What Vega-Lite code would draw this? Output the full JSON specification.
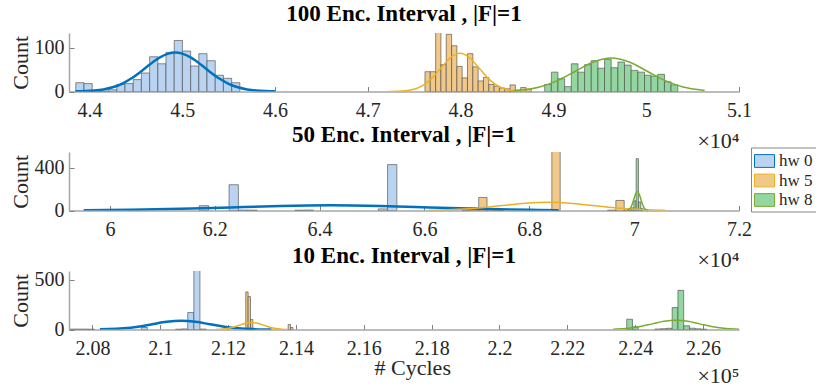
{
  "$schema": "https://vega.github.io/schema/vega-lite/v6.json",
  "padding": {"left": 9, "top": 2, "right": 0, "bottom": 0},
  "background": "white",
  "title": {"text": "# Cycles", "orient": "bottom", "anchor": "middle", "offset": -29, "fontWeight": "normal", "fontSize": 22, "color": "#262626", "font": "Liberation Serif"},
  "datasets": {
    "bars": [
      {"p":1,"s":"hw 0","a":4.3853,"b":4.3941,"n":20},{"p":1,"s":"hw 0","a":4.3941,"b":4.4030,"n":18},{"p":1,"s":"hw 0","a":4.4030,"b":4.4118,"n":1},{"p":1,"s":"hw 0","a":4.4118,"b":4.4207,"n":1},{"p":1,"s":"hw 0","a":4.4207,"b":4.4295,"n":4},{"p":1,"s":"hw 0","a":4.4295,"b":4.4383,"n":16},{"p":1,"s":"hw 0","a":4.4383,"b":4.4472,"n":18},{"p":1,"s":"hw 0","a":4.4472,"b":4.4560,"n":27},{"p":1,"s":"hw 0","a":4.4560,"b":4.4649,"n":42},{"p":1,"s":"hw 0","a":4.4649,"b":4.4737,"n":79},{"p":1,"s":"hw 0","a":4.4737,"b":4.4825,"n":63},{"p":1,"s":"hw 0","a":4.4825,"b":4.4914,"n":89},{"p":1,"s":"hw 0","a":4.4914,"b":4.5002,"n":116},{"p":1,"s":"hw 0","a":4.5002,"b":4.5091,"n":92},{"p":1,"s":"hw 0","a":4.5091,"b":4.5179,"n":58},{"p":1,"s":"hw 0","a":4.5179,"b":4.5267,"n":86},{"p":1,"s":"hw 0","a":4.5267,"b":4.5356,"n":70},{"p":1,"s":"hw 0","a":4.5356,"b":4.5444,"n":37},{"p":1,"s":"hw 0","a":4.5444,"b":4.5533,"n":30},{"p":1,"s":"hw 0","a":4.5533,"b":4.5621,"n":20},
      {"p":1,"s":"hw 5","a":4.7616,"b":4.7673,"n":45},{"p":1,"s":"hw 5","a":4.7673,"b":4.7731,"n":45},{"p":1,"s":"hw 5","a":4.7731,"b":4.7788,"n":140},{"p":1,"s":"hw 5","a":4.7788,"b":4.7845,"n":61},{"p":1,"s":"hw 5","a":4.7845,"b":4.7903,"n":130},{"p":1,"s":"hw 5","a":4.7903,"b":4.7960,"n":104},{"p":1,"s":"hw 5","a":4.7960,"b":4.8017,"n":57},{"p":1,"s":"hw 5","a":4.8017,"b":4.8074,"n":31},{"p":1,"s":"hw 5","a":4.8074,"b":4.8132,"n":86},{"p":1,"s":"hw 5","a":4.8132,"b":4.8189,"n":56},{"p":1,"s":"hw 5","a":4.8189,"b":4.8246,"n":24},{"p":1,"s":"hw 5","a":4.8246,"b":4.8304,"n":32},{"p":1,"s":"hw 5","a":4.8304,"b":4.8361,"n":16},{"p":1,"s":"hw 5","a":4.8361,"b":4.8418,"n":12},{"p":1,"s":"hw 5","a":4.8418,"b":4.8476,"n":8},{"p":1,"s":"hw 5","a":4.8476,"b":4.8533,"n":6},{"p":1,"s":"hw 5","a":4.8533,"b":4.8590,"n":15},{"p":1,"s":"hw 5","a":4.8590,"b":4.8647,"n":3},{"p":1,"s":"hw 5","a":4.8647,"b":4.8705,"n":9},{"p":1,"s":"hw 5","a":4.8705,"b":4.8762,"n":5},
      {"p":1,"s":"hw 8","a":4.8906,"b":4.8978,"n":16},{"p":1,"s":"hw 8","a":4.8978,"b":4.9049,"n":44},{"p":1,"s":"hw 8","a":4.9049,"b":4.9121,"n":29},{"p":1,"s":"hw 8","a":4.9121,"b":4.9193,"n":11},{"p":1,"s":"hw 8","a":4.9193,"b":4.9265,"n":63},{"p":1,"s":"hw 8","a":4.9265,"b":4.9336,"n":44},{"p":1,"s":"hw 8","a":4.9336,"b":4.9408,"n":61},{"p":1,"s":"hw 8","a":4.9408,"b":4.9480,"n":70},{"p":1,"s":"hw 8","a":4.9480,"b":4.9551,"n":53},{"p":1,"s":"hw 8","a":4.9551,"b":4.9623,"n":73},{"p":1,"s":"hw 8","a":4.9623,"b":4.9695,"n":54},{"p":1,"s":"hw 8","a":4.9695,"b":4.9766,"n":67},{"p":1,"s":"hw 8","a":4.9766,"b":4.9838,"n":60},{"p":1,"s":"hw 8","a":4.9838,"b":4.9910,"n":48},{"p":1,"s":"hw 8","a":4.9910,"b":4.9982,"n":44},{"p":1,"s":"hw 8","a":4.9982,"b":5.0053,"n":37},{"p":1,"s":"hw 8","a":5.0053,"b":5.0125,"n":35},{"p":1,"s":"hw 8","a":5.0125,"b":5.0197,"n":39},{"p":1,"s":"hw 8","a":5.0197,"b":5.0268,"n":22},{"p":1,"s":"hw 8","a":5.0268,"b":5.0340,"n":15},
      {"p":2,"s":"hw 0","a":6.1705,"b":6.1883,"n":45},{"p":2,"s":"hw 0","a":6.2273,"b":6.2451,"n":241},{"p":2,"s":"hw 0","a":6.2451,"b":6.2629,"n":4},{"p":2,"s":"hw 0","a":6.2629,"b":6.2807,"n":3},{"p":2,"s":"hw 0","a":6.3530,"b":6.3708,"n":3},{"p":2,"s":"hw 0","a":6.3708,"b":6.3886,"n":4},{"p":2,"s":"hw 0","a":6.5118,"b":6.5296,"n":15},{"p":2,"s":"hw 0","a":6.5296,"b":6.5474,"n":429},
      {"p":2,"s":"hw 5","a":6.6717,"b":6.6876,"n":4},{"p":2,"s":"hw 5","a":6.6876,"b":6.7035,"n":25},{"p":2,"s":"hw 5","a":6.7035,"b":6.7194,"n":122},{"p":2,"s":"hw 5","a":6.7194,"b":6.7353,"n":15},{"p":2,"s":"hw 5","a":6.7353,"b":6.7512,"n":4},{"p":2,"s":"hw 5","a":6.8430,"b":6.8589,"n":600},{"p":2,"s":"hw 5","a":6.9492,"b":6.9651,"n":3},{"p":2,"s":"hw 5","a":6.9651,"b":6.9810,"n":94},{"p":2,"s":"hw 5","a":6.9810,"b":6.9969,"n":4},
      {"p":2,"s":"hw 8","a":6.9950,"b":6.9994,"n":25},{"p":2,"s":"hw 8","a":6.9994,"b":7.0038,"n":90},{"p":2,"s":"hw 8","a":7.0038,"b":7.0082,"n":485},{"p":2,"s":"hw 8","a":7.0082,"b":7.0126,"n":80},{"p":2,"s":"hw 8","a":7.0126,"b":7.0170,"n":20},
      {"p":3,"s":"hw 0","a":2.0735,"b":2.0753,"n":4},{"p":3,"s":"hw 0","a":2.0753,"b":2.0771,"n":4},{"p":3,"s":"hw 0","a":2.0771,"b":2.0789,"n":4},{"p":3,"s":"hw 0","a":2.0789,"b":2.0807,"n":3},{"p":3,"s":"hw 0","a":2.0944,"b":2.0962,"n":20},{"p":3,"s":"hw 0","a":2.1045,"b":2.1063,"n":3},{"p":3,"s":"hw 0","a":2.1063,"b":2.1081,"n":6},{"p":3,"s":"hw 0","a":2.1081,"b":2.1099,"n":170},{"p":3,"s":"hw 0","a":2.1099,"b":2.1117,"n":620},{"p":3,"s":"hw 0","a":2.1117,"b":2.1135,"n":4},
      {"p":3,"s":"hw 5","a":2.1252,"b":2.1259,"n":377},{"p":3,"s":"hw 5","a":2.1259,"b":2.1266,"n":330},{"p":3,"s":"hw 5","a":2.1266,"b":2.1273,"n":100},{"p":3,"s":"hw 5","a":2.1273,"b":2.1280,"n":10},{"p":3,"s":"hw 5","a":2.1377,"b":2.1384,"n":50},{"p":3,"s":"hw 5","a":2.1384,"b":2.1391,"n":20},
      {"p":3,"s":"hw 8","a":2.2375,"b":2.2392,"n":103},{"p":3,"s":"hw 8","a":2.2392,"b":2.2409,"n":27},{"p":3,"s":"hw 8","a":2.2458,"b":2.2475,"n":5},{"p":3,"s":"hw 8","a":2.2475,"b":2.2492,"n":8},{"p":3,"s":"hw 8","a":2.2492,"b":2.2509,"n":12},{"p":3,"s":"hw 8","a":2.2509,"b":2.2526,"n":220},{"p":3,"s":"hw 8","a":2.2526,"b":2.2543,"n":393},{"p":3,"s":"hw 8","a":2.2543,"b":2.2560,"n":37},{"p":3,"s":"hw 8","a":2.2560,"b":2.2577,"n":13},{"p":3,"s":"hw 8","a":2.2577,"b":2.2594,"n":7},{"p":3,"s":"hw 8","a":2.2594,"b":2.2611,"n":3}
    ],
    "fits": [
      {"p":1,"s":"hw 0","x":4.385,"y":0.3},{"p":1,"s":"hw 0","x":4.395,"y":0.9},{"p":1,"s":"hw 0","x":4.405,"y":2.1},{"p":1,"s":"hw 0","x":4.415,"y":4.7},{"p":1,"s":"hw 0","x":4.425,"y":9.6},{"p":1,"s":"hw 0","x":4.435,"y":17.6},{"p":1,"s":"hw 0","x":4.445,"y":29.5},{"p":1,"s":"hw 0","x":4.455,"y":44.6},{"p":1,"s":"hw 0","x":4.465,"y":61.3},{"p":1,"s":"hw 0","x":4.475,"y":76.3},{"p":1,"s":"hw 0","x":4.485,"y":86.2},{"p":1,"s":"hw 0","x":4.4925,"y":88.6},{"p":1,"s":"hw 0","x":4.50,"y":86.2},{"p":1,"s":"hw 0","x":4.51,"y":76.3},{"p":1,"s":"hw 0","x":4.52,"y":61.3},{"p":1,"s":"hw 0","x":4.53,"y":44.6},{"p":1,"s":"hw 0","x":4.54,"y":29.5},{"p":1,"s":"hw 0","x":4.55,"y":17.6},{"p":1,"s":"hw 0","x":4.56,"y":9.6},{"p":1,"s":"hw 0","x":4.57,"y":4.7},{"p":1,"s":"hw 0","x":4.58,"y":2.1},{"p":1,"s":"hw 0","x":4.59,"y":0.9},{"p":1,"s":"hw 0","x":4.60,"y":0.3},
      {"p":1,"s":"hw 5","x":4.7223,"y":0.09},{"p":1,"s":"hw 5","x":4.7265,"y":0.19},{"p":1,"s":"hw 5","x":4.7369,"y":0.97},{"p":1,"s":"hw 5","x":4.7473,"y":3.8},{"p":1,"s":"hw 5","x":4.7577,"y":11.8},{"p":1,"s":"hw 5","x":4.7681,"y":28.2},{"p":1,"s":"hw 5","x":4.7785,"y":52.8},{"p":1,"s":"hw 5","x":4.7889,"y":76.8},{"p":1,"s":"hw 5","x":4.7993,"y":87},{"p":1,"s":"hw 5","x":4.8097,"y":76.8},{"p":1,"s":"hw 5","x":4.8201,"y":52.8},{"p":1,"s":"hw 5","x":4.8305,"y":28.2},{"p":1,"s":"hw 5","x":4.8409,"y":11.8},{"p":1,"s":"hw 5","x":4.8513,"y":3.8},{"p":1,"s":"hw 5","x":4.8617,"y":0.97},{"p":1,"s":"hw 5","x":4.8721,"y":0.19},
      {"p":1,"s":"hw 8","x":4.8568,"y":1.82},{"p":1,"s":"hw 8","x":4.8657,"y":3.34},{"p":1,"s":"hw 8","x":4.8850,"y":10.3},{"p":1,"s":"hw 8","x":4.9044,"y":24.7},{"p":1,"s":"hw 8","x":4.9237,"y":46.1},{"p":1,"s":"hw 8","x":4.9431,"y":67.1},{"p":1,"s":"hw 8","x":4.9624,"y":76},{"p":1,"s":"hw 8","x":4.9818,"y":67.1},{"p":1,"s":"hw 8","x":5.0011,"y":46.1},{"p":1,"s":"hw 8","x":5.0205,"y":24.7},{"p":1,"s":"hw 8","x":5.0398,"y":10.3},{"p":1,"s":"hw 8","x":5.0592,"y":3.34},{"p":1,"s":"hw 8","x":5.0630,"y":2.62},
      {"p":2,"s":"hw 0","x":5.95,"y":2.3},{"p":2,"s":"hw 0","x":6.04,"y":6.5},{"p":2,"s":"hw 0","x":6.135,"y":15.6},{"p":2,"s":"hw 0","x":6.23,"y":29.1},{"p":2,"s":"hw 0","x":6.325,"y":42.4},{"p":2,"s":"hw 0","x":6.42,"y":48},{"p":2,"s":"hw 0","x":6.515,"y":42.4},{"p":2,"s":"hw 0","x":6.61,"y":29.1},{"p":2,"s":"hw 0","x":6.705,"y":15.6},{"p":2,"s":"hw 0","x":6.80,"y":6.5},{"p":2,"s":"hw 0","x":6.856,"y":3.5},
      {"p":2,"s":"hw 5","x":6.608,"y":2.2},{"p":2,"s":"hw 5","x":6.6225,"y":3.4},{"p":2,"s":"hw 5","x":6.665,"y":10.6},{"p":2,"s":"hw 5","x":6.7075,"y":25.3},{"p":2,"s":"hw 5","x":6.75,"y":47.3},{"p":2,"s":"hw 5","x":6.7925,"y":68.8},{"p":2,"s":"hw 5","x":6.835,"y":78},{"p":2,"s":"hw 5","x":6.8775,"y":68.8},{"p":2,"s":"hw 5","x":6.92,"y":47.3},{"p":2,"s":"hw 5","x":6.9625,"y":25.3},{"p":2,"s":"hw 5","x":7.005,"y":10.6},{"p":2,"s":"hw 5","x":7.0475,"y":3.4},{"p":2,"s":"hw 5","x":7.059,"y":2.4},
      {"p":2,"s":"hw 8","x":6.9866,"y":2.0},{"p":2,"s":"hw 8","x":6.9899,"y":7.8},{"p":2,"s":"hw 8","x":6.9931,"y":24.1},{"p":2,"s":"hw 8","x":6.9964,"y":57.8},{"p":2,"s":"hw 8","x":6.9996,"y":108},{"p":2,"s":"hw 8","x":7.0029,"y":157},{"p":2,"s":"hw 8","x":7.0061,"y":178},{"p":2,"s":"hw 8","x":7.0094,"y":157},{"p":2,"s":"hw 8","x":7.0126,"y":108},{"p":2,"s":"hw 8","x":7.0159,"y":57.8},{"p":2,"s":"hw 8","x":7.0191,"y":24.1},{"p":2,"s":"hw 8","x":7.0224,"y":7.8},{"p":2,"s":"hw 8","x":7.0256,"y":2.0},
      {"p":3,"s":"hw 0","x":2.0822,"y":1.7},{"p":3,"s":"hw 0","x":2.0848,"y":3.8},{"p":3,"s":"hw 0","x":2.0891,"y":11.8},{"p":3,"s":"hw 0","x":2.0934,"y":28.2},{"p":3,"s":"hw 0","x":2.0976,"y":52.8},{"p":3,"s":"hw 0","x":2.1019,"y":76.8},{"p":3,"s":"hw 0","x":2.1061,"y":87},{"p":3,"s":"hw 0","x":2.1104,"y":76.8},{"p":3,"s":"hw 0","x":2.1146,"y":52.8},{"p":3,"s":"hw 0","x":2.1189,"y":28.2},{"p":3,"s":"hw 0","x":2.1231,"y":11.8},{"p":3,"s":"hw 0","x":2.1274,"y":3.8},{"p":3,"s":"hw 0","x":2.1316,"y":0.97},{"p":3,"s":"hw 0","x":2.1328,"y":0.6},
      {"p":3,"s":"hw 5","x":2.1163,"y":0.93},{"p":3,"s":"hw 5","x":2.1179,"y":3.1},{"p":3,"s":"hw 5","x":2.1197,"y":9.5},{"p":3,"s":"hw 5","x":2.1215,"y":22.7},{"p":3,"s":"hw 5","x":2.1233,"y":42.5},{"p":3,"s":"hw 5","x":2.1251,"y":61.8},{"p":3,"s":"hw 5","x":2.1269,"y":70},{"p":3,"s":"hw 5","x":2.1287,"y":61.8},{"p":3,"s":"hw 5","x":2.1305,"y":42.5},{"p":3,"s":"hw 5","x":2.1323,"y":22.7},{"p":3,"s":"hw 5","x":2.1341,"y":9.5},{"p":3,"s":"hw 5","x":2.1359,"y":3.1},{"p":3,"s":"hw 5","x":2.1377,"y":0.78},
      {"p":3,"s":"hw 8","x":2.2335,"y":2.9},{"p":3,"s":"hw 8","x":2.2345,"y":4.1},{"p":3,"s":"hw 8","x":2.2380,"y":12.6},{"p":3,"s":"hw 8","x":2.2415,"y":30.2},{"p":3,"s":"hw 8","x":2.2450,"y":56.4},{"p":3,"s":"hw 8","x":2.2485,"y":82.1},{"p":3,"s":"hw 8","x":2.2520,"y":93},{"p":3,"s":"hw 8","x":2.2555,"y":82.1},{"p":3,"s":"hw 8","x":2.2590,"y":56.4},{"p":3,"s":"hw 8","x":2.2625,"y":30.2},{"p":3,"s":"hw 8","x":2.2660,"y":12.6},{"p":3,"s":"hw 8","x":2.2695,"y":4.1},{"p":3,"s":"hw 8","x":2.2711,"y":2.2}
    ]
  },
  "vconcat": [
    {
      "width": 670, "height": 58.5,
      "title": {"text": "100 Enc. Interval , |F|=1", "offset": 7.5},
      "layer": [
        {"data": {"name": "bars"}, "transform": [{"filter": "datum.p == 1"}],
         "mark": {"type": "bar", "clip": true, "stroke": "#4d4d4d", "strokeWidth": 0.8, "strokeOpacity": 0.8},
         "encoding": {
           "x": {"field": "a", "type": "quantitative", "scale": {"domain": [4.378, 5.1], "nice": false, "zero": false},
                 "axis": {"values": [4.4, 4.5, 4.6, 4.7, 4.8, 4.9, 5, 5.1], "format": "~g", "title": "×10⁴", "titleAnchor": "end", "titlePadding": 10}},
           "x2": {"field": "b"},
           "y": {"field": "n", "type": "quantitative", "scale": {"domain": [0, 133], "nice": false}, "axis": {"values": [0, 50, 100], "title": "Count"}},
           "y2": {"datum": 0},
           "color": {"field": "s", "type": "nominal", "scale": {"domain": ["hw 0", "hw 5", "hw 8"], "range": ["#b9d3f1", "#f0c98a", "#93d69f"]}, "legend": {"orient": "none", "legendX": 682, "legendY": 114.5}}
         }},
        {"data": {"name": "fits"}, "transform": [{"filter": "datum.p == 1 && datum.s == 'hw 0'"}],
         "mark": {"type": "line", "interpolate": "monotone", "strokeWidth": 2.5, "clip": true},
         "encoding": {"x": {"field": "x", "type": "quantitative"}, "y": {"field": "y", "type": "quantitative"},
           "stroke": {"field": "s", "type": "nominal", "scale": {"domain": ["hw 0", "hw 5", "hw 8"], "range": ["#0072BD", "#EDB120", "#77AC30"]}, "legend": null}}},
        {"data": {"name": "fits"}, "transform": [{"filter": "datum.p == 1 && datum.s != 'hw 0'"}],
         "mark": {"type": "line", "interpolate": "monotone", "strokeWidth": 1.5, "clip": true},
         "encoding": {"x": {"field": "x", "type": "quantitative"}, "y": {"field": "y", "type": "quantitative"},
           "stroke": {"field": "s", "type": "nominal", "legend": null}}}
      ]
    },
    {
      "width": 670, "height": 58.5,
      "title": {"text": "50 Enc. Interval , |F|=1", "offset": 5},
      "layer": [
        {"data": {"name": "bars"}, "transform": [{"filter": "datum.p == 2"}],
         "mark": {"type": "bar", "clip": true, "stroke": "#4d4d4d", "strokeWidth": 0.8, "strokeOpacity": 0.8},
         "encoding": {
           "x": {"field": "a", "type": "quantitative", "scale": {"domain": [5.922, 7.2], "nice": false, "zero": false},
                 "axis": {"values": [6, 6.2, 6.4, 6.6, 6.8, 7, 7.2], "format": "~g", "title": "×10⁴", "titleAnchor": "end", "titlePadding": 10}},
           "x2": {"field": "b"},
           "y": {"field": "n", "type": "quantitative", "scale": {"domain": [0, 547], "nice": false}, "axis": {"values": [0, 200, 400], "title": "Count"}},
           "y2": {"datum": 0},
           "color": {"field": "s", "type": "nominal"}
         }},
        {"data": {"name": "fits"}, "transform": [{"filter": "datum.p == 2 && datum.s == 'hw 0'"}],
         "mark": {"type": "line", "interpolate": "monotone", "strokeWidth": 2.5, "clip": true},
         "encoding": {"x": {"field": "x", "type": "quantitative"}, "y": {"field": "y", "type": "quantitative"},
           "stroke": {"field": "s", "type": "nominal", "legend": null}}},
        {"data": {"name": "fits"}, "transform": [{"filter": "datum.p == 2 && datum.s != 'hw 0'"}],
         "mark": {"type": "line", "interpolate": "monotone", "strokeWidth": 1.5, "clip": true},
         "encoding": {"x": {"field": "x", "type": "quantitative"}, "y": {"field": "y", "type": "quantitative"},
           "stroke": {"field": "s", "type": "nominal", "legend": null}}}
      ]
    },
    {
      "width": 670, "height": 58.5,
      "title": {"text": "10 Enc. Interval , |F|=1", "offset": 2},
      "layer": [
        {"data": {"name": "bars"}, "transform": [{"filter": "datum.p == 3"}],
         "mark": {"type": "bar", "clip": true, "stroke": "#4d4d4d", "strokeWidth": 0.8, "strokeOpacity": 0.8},
         "encoding": {
           "x": {"field": "a", "type": "quantitative", "scale": {"domain": [2.0731, 2.2706], "nice": false, "zero": false},
                 "axis": {"values": [2.08, 2.1, 2.12, 2.14, 2.16, 2.18, 2.2, 2.22, 2.24, 2.26], "format": "~g", "title": "×10⁵", "titleAnchor": "end", "titlePadding": 7}},
           "x2": {"field": "b"},
           "y": {"field": "n", "type": "quantitative", "scale": {"domain": [0, 587], "nice": false}, "axis": {"values": [0, 300, 500], "title": "Count"}},
           "y2": {"datum": 0},
           "color": {"field": "s", "type": "nominal"}
         }},
        {"data": {"name": "fits"}, "transform": [{"filter": "datum.p == 3 && datum.s == 'hw 0'"}],
         "mark": {"type": "line", "interpolate": "monotone", "strokeWidth": 2.5, "clip": true},
         "encoding": {"x": {"field": "x", "type": "quantitative"}, "y": {"field": "y", "type": "quantitative"},
           "stroke": {"field": "s", "type": "nominal", "legend": null}}},
        {"data": {"name": "fits"}, "transform": [{"filter": "datum.p == 3 && datum.s != 'hw 0'"}],
         "mark": {"type": "line", "interpolate": "monotone", "strokeWidth": 1.5, "clip": true},
         "encoding": {"x": {"field": "x", "type": "quantitative"}, "y": {"field": "y", "type": "quantitative"},
           "stroke": {"field": "s", "type": "nominal", "legend": null}}}
      ]
    }
  ],
  "spacing": 60,
  "bounds": "flush",
  "config": {
    "view": {"stroke": null},
    "font": "Liberation Serif",
    "title": {"font": "Liberation Serif", "fontSize": 23, "fontWeight": "bold", "color": "#000000", "anchor": "middle"},
    "axis": {"labelFont": "Liberation Serif", "labelFontSize": 20, "labelColor": "#262626", "titleFont": "Liberation Serif", "titleFontSize": 22, "titleFontWeight": "normal", "titleColor": "#262626", "domainColor": "#a6a6a6", "domainWidth": 1.5, "tickColor": "#7f7f7f", "tickSize": -5, "grid": false, "labelPadding": 14},
    "axisX": {"labelFlush": false},
    "axisY": {"labelPadding": 10, "titlePadding": 2},
    "legend": {"title": null, "labelFont": "Liberation Serif", "labelFontSize": 17, "labelColor": "#262626", "symbolType": "M-1,-0.64H1V0.64H-1Z", "symbolSize": 400, "symbolStrokeColor": "#555555", "symbolStrokeWidth": 1, "symbolOpacity": 1, "labelOffset": 4, "rowPadding": 0.5, "padding": 3, "strokeColor": "#888888", "fillColor": "#ffffff"}
  }
}
